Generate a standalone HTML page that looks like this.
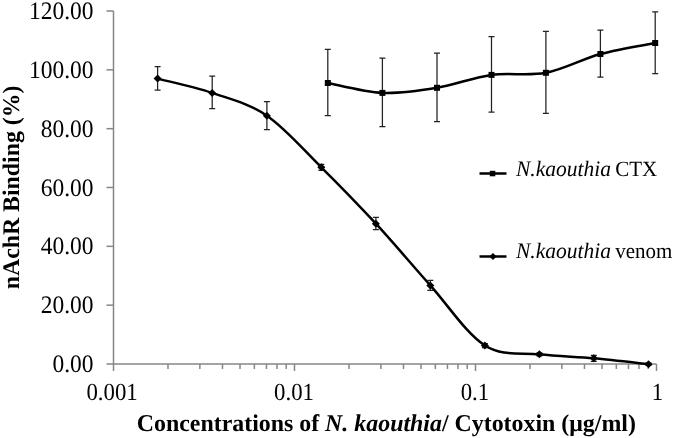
<!DOCTYPE html>
<html><head><meta charset="utf-8"><style>
html,body{margin:0;padding:0;background:#fff;}
body{width:675px;height:438px;overflow:hidden;font-family:"Liberation Serif",serif;}
svg{display:block;filter:grayscale(1);}
text{text-rendering:geometricPrecision;}
</style></head><body>
<svg width="675" height="438" viewBox="0 0 675 438">
<rect width="675" height="438" fill="#fff"/>
<path d="M113.5,11.0 V364.0 H656.5" fill="none" stroke="#868686" stroke-width="1.5"/>
<line x1="106.5" y1="364.00" x2="113.5" y2="364.00" stroke="#868686" stroke-width="1.5"/>
<line x1="106.5" y1="305.17" x2="113.5" y2="305.17" stroke="#868686" stroke-width="1.5"/>
<line x1="106.5" y1="246.33" x2="113.5" y2="246.33" stroke="#868686" stroke-width="1.5"/>
<line x1="106.5" y1="187.50" x2="113.5" y2="187.50" stroke="#868686" stroke-width="1.5"/>
<line x1="106.5" y1="128.67" x2="113.5" y2="128.67" stroke="#868686" stroke-width="1.5"/>
<line x1="106.5" y1="69.83" x2="113.5" y2="69.83" stroke="#868686" stroke-width="1.5"/>
<line x1="106.5" y1="11.00" x2="113.5" y2="11.00" stroke="#868686" stroke-width="1.5"/>
<line x1="113.50" y1="364.0" x2="113.50" y2="371.0" stroke="#868686" stroke-width="1.5"/>
<line x1="167.99" y1="364.0" x2="167.99" y2="369.0" stroke="#868686" stroke-width="1.5"/>
<line x1="199.86" y1="364.0" x2="199.86" y2="369.0" stroke="#868686" stroke-width="1.5"/>
<line x1="222.47" y1="364.0" x2="222.47" y2="369.0" stroke="#868686" stroke-width="1.5"/>
<line x1="240.01" y1="364.0" x2="240.01" y2="369.0" stroke="#868686" stroke-width="1.5"/>
<line x1="254.35" y1="364.0" x2="254.35" y2="369.0" stroke="#868686" stroke-width="1.5"/>
<line x1="266.46" y1="364.0" x2="266.46" y2="369.0" stroke="#868686" stroke-width="1.5"/>
<line x1="276.96" y1="364.0" x2="276.96" y2="369.0" stroke="#868686" stroke-width="1.5"/>
<line x1="286.22" y1="364.0" x2="286.22" y2="369.0" stroke="#868686" stroke-width="1.5"/>
<line x1="294.50" y1="364.0" x2="294.50" y2="371.0" stroke="#868686" stroke-width="1.5"/>
<line x1="348.99" y1="364.0" x2="348.99" y2="369.0" stroke="#868686" stroke-width="1.5"/>
<line x1="380.86" y1="364.0" x2="380.86" y2="369.0" stroke="#868686" stroke-width="1.5"/>
<line x1="403.47" y1="364.0" x2="403.47" y2="369.0" stroke="#868686" stroke-width="1.5"/>
<line x1="421.01" y1="364.0" x2="421.01" y2="369.0" stroke="#868686" stroke-width="1.5"/>
<line x1="435.35" y1="364.0" x2="435.35" y2="369.0" stroke="#868686" stroke-width="1.5"/>
<line x1="447.46" y1="364.0" x2="447.46" y2="369.0" stroke="#868686" stroke-width="1.5"/>
<line x1="457.96" y1="364.0" x2="457.96" y2="369.0" stroke="#868686" stroke-width="1.5"/>
<line x1="467.22" y1="364.0" x2="467.22" y2="369.0" stroke="#868686" stroke-width="1.5"/>
<line x1="475.50" y1="364.0" x2="475.50" y2="371.0" stroke="#868686" stroke-width="1.5"/>
<line x1="529.99" y1="364.0" x2="529.99" y2="369.0" stroke="#868686" stroke-width="1.5"/>
<line x1="561.86" y1="364.0" x2="561.86" y2="369.0" stroke="#868686" stroke-width="1.5"/>
<line x1="584.47" y1="364.0" x2="584.47" y2="369.0" stroke="#868686" stroke-width="1.5"/>
<line x1="602.01" y1="364.0" x2="602.01" y2="369.0" stroke="#868686" stroke-width="1.5"/>
<line x1="616.35" y1="364.0" x2="616.35" y2="369.0" stroke="#868686" stroke-width="1.5"/>
<line x1="628.46" y1="364.0" x2="628.46" y2="369.0" stroke="#868686" stroke-width="1.5"/>
<line x1="638.96" y1="364.0" x2="638.96" y2="369.0" stroke="#868686" stroke-width="1.5"/>
<line x1="648.22" y1="364.0" x2="648.22" y2="369.0" stroke="#868686" stroke-width="1.5"/>
<line x1="656.5" y1="364.0" x2="656.5" y2="371.0" stroke="#868686" stroke-width="1.5"/>
<path d="M327.8,49.3 V115.5 M324.80,49.3 H330.80 M324.80,115.5 H330.80" fill="none" stroke="#222" stroke-width="1.25"/>
<path d="M382.4,58.2 V126.7 M379.40,58.2 H385.40 M379.40,126.7 H385.40" fill="none" stroke="#222" stroke-width="1.25"/>
<path d="M437.0,53.0 V121.7 M434.00,53.0 H440.00 M434.00,121.7 H440.00" fill="none" stroke="#222" stroke-width="1.25"/>
<path d="M491.5,36.7 V112.0 M488.50,36.7 H494.50 M488.50,112.0 H494.50" fill="none" stroke="#222" stroke-width="1.25"/>
<path d="M545.9,31.4 V113.3 M542.90,31.4 H548.90 M542.90,113.3 H548.90" fill="none" stroke="#222" stroke-width="1.25"/>
<path d="M600.4,30.2 V77.0 M597.40,30.2 H603.40 M597.40,77.0 H603.40" fill="none" stroke="#222" stroke-width="1.25"/>
<path d="M655.2,11.9 V73.6 M652.20,11.9 H658.20 M652.20,73.6 H658.20" fill="none" stroke="#222" stroke-width="1.25"/>
<path d="M157.6,66.5 V90.1 M154.60,66.5 H160.60 M154.60,90.1 H160.60" fill="none" stroke="#222" stroke-width="1.25"/>
<path d="M212.2,76.1 V108.7 M209.20,76.1 H215.20 M209.20,108.7 H215.20" fill="none" stroke="#222" stroke-width="1.25"/>
<path d="M266.9,101.7 V129.7 M263.90,101.7 H269.90 M263.90,129.7 H269.90" fill="none" stroke="#222" stroke-width="1.25"/>
<path d="M321.3,164.3 V170.4 M318.30,164.3 H324.30 M318.30,170.4 H324.30" fill="none" stroke="#222" stroke-width="1.25"/>
<path d="M375.9,217.4 V229.7 M372.90,217.4 H378.90 M372.90,229.7 H378.90" fill="none" stroke="#222" stroke-width="1.25"/>
<path d="M430.3,280.4 V290.3 M427.30,280.4 H433.30 M427.30,290.3 H433.30" fill="none" stroke="#222" stroke-width="1.25"/>
<path d="M484.9,343.5 V347.5 M481.90,343.5 H487.90 M481.90,347.5 H487.90" fill="none" stroke="#222" stroke-width="1.25"/>
<path d="M539.4,352.8 V355.8 M536.40,352.8 H542.40 M536.40,355.8 H542.40" fill="none" stroke="#222" stroke-width="1.25"/>
<path d="M593.8,355.3 V361.4 M590.80,355.3 H596.80 M590.80,361.4 H596.80" fill="none" stroke="#222" stroke-width="1.25"/>
<path d="M648.5,363.0 V365.4 M645.50,363.0 H651.50 M645.50,365.4 H651.50" fill="none" stroke="#222" stroke-width="1.25"/>
<path d="M327.80,83.00 C336.90,84.65 364.20,92.10 382.40,92.90 C400.60,93.70 418.82,90.80 437.00,87.80 C455.18,84.80 473.35,77.40 491.50,74.90 C509.65,72.40 527.75,76.28 545.90,72.80 C564.05,69.32 582.18,58.97 600.40,54.00 C618.62,49.03 646.07,44.83 655.20,43.00" fill="none" stroke="#000" stroke-width="2.5" stroke-linejoin="round"/>
<path d="M157.60,78.60 C166.70,80.98 193.98,86.72 212.20,92.90 C230.42,99.08 248.72,103.30 266.90,115.70 C285.08,128.10 303.13,149.30 321.30,167.30 C339.47,185.30 357.73,204.02 375.90,223.70 C394.07,243.38 412.13,265.10 430.30,285.40 C448.47,305.70 466.72,334.02 484.90,345.50 C503.08,356.98 521.25,352.17 539.40,354.30 C557.55,356.43 575.62,356.65 593.80,358.30 C611.98,359.95 639.38,363.22 648.50,364.20" fill="none" stroke="#000" stroke-width="2.5" stroke-linejoin="round"/>
<rect x="324.80" y="80.00" width="6" height="6" fill="#000"/>
<rect x="379.40" y="89.90" width="6" height="6" fill="#000"/>
<rect x="434.00" y="84.80" width="6" height="6" fill="#000"/>
<rect x="488.50" y="71.90" width="6" height="6" fill="#000"/>
<rect x="542.90" y="69.80" width="6" height="6" fill="#000"/>
<rect x="597.40" y="51.00" width="6" height="6" fill="#000"/>
<rect x="652.20" y="40.00" width="6" height="6" fill="#000"/>
<path d="M157.6,74.60 L161.60,78.6 L157.6,82.60 L153.60,78.6 Z" fill="#000"/>
<path d="M212.2,88.90 L216.20,92.9 L212.2,96.90 L208.20,92.9 Z" fill="#000"/>
<path d="M266.9,111.70 L270.90,115.7 L266.9,119.70 L262.90,115.7 Z" fill="#000"/>
<path d="M321.3,163.30 L325.30,167.3 L321.3,171.30 L317.30,167.3 Z" fill="#000"/>
<path d="M375.9,219.70 L379.90,223.7 L375.9,227.70 L371.90,223.7 Z" fill="#000"/>
<path d="M430.3,281.40 L434.30,285.4 L430.3,289.40 L426.30,285.4 Z" fill="#000"/>
<path d="M484.9,341.50 L488.90,345.5 L484.9,349.50 L480.90,345.5 Z" fill="#000"/>
<path d="M539.4,350.30 L543.40,354.3 L539.4,358.30 L535.40,354.3 Z" fill="#000"/>
<path d="M593.8,354.30 L597.80,358.3 L593.8,362.30 L589.80,358.3 Z" fill="#000"/>
<path d="M648.5,360.20 L652.50,364.2 L648.5,368.20 L644.50,364.2 Z" fill="#000"/>
<line x1="479.5" y1="173.5" x2="506.5" y2="173.5" stroke="#000" stroke-width="2.5"/>
<rect x="489.8" y="170.8" width="5.5" height="5.5" fill="#000"/>
<line x1="479.5" y1="256.5" x2="506.5" y2="256.5" stroke="#000" stroke-width="2.5"/>
<path d="M493,252.9 L496.6,256.5 L493,260.1 L489.4,256.5 Z" fill="#000"/>
<text transform="translate(516.00,175.50) scale(1.0,1.03)" font-size="21" text-anchor="start" font-family="'Liberation Serif', serif" ><tspan font-style="italic" font-size="21.5">N.kaouthia</tspan><tspan dx="-1"> CTX</tspan></text>
<text transform="translate(516.00,257.90) scale(1.0,1.03)" font-size="21" text-anchor="start" font-family="'Liberation Serif', serif" ><tspan font-style="italic" font-size="21.5">N.kaouthia</tspan><tspan dx="-1"> venom</tspan></text>
<text transform="translate(93.50,372.00) scale(1.0,1.07)" font-size="23.5" text-anchor="end" font-family="'Liberation Serif', serif" >0.00</text>
<text transform="translate(93.50,313.17) scale(1.0,1.07)" font-size="23.5" text-anchor="end" font-family="'Liberation Serif', serif" >20.00</text>
<text transform="translate(93.50,254.33) scale(1.0,1.07)" font-size="23.5" text-anchor="end" font-family="'Liberation Serif', serif" >40.00</text>
<text transform="translate(93.50,195.50) scale(1.0,1.07)" font-size="23.5" text-anchor="end" font-family="'Liberation Serif', serif" >60.00</text>
<text transform="translate(93.50,136.67) scale(1.0,1.07)" font-size="23.5" text-anchor="end" font-family="'Liberation Serif', serif" >80.00</text>
<text transform="translate(93.50,77.83) scale(1.0,1.07)" font-size="23.5" text-anchor="end" font-family="'Liberation Serif', serif" >100.00</text>
<text transform="translate(93.50,19.00) scale(1.0,1.07)" font-size="23.5" text-anchor="end" font-family="'Liberation Serif', serif" >120.00</text>
<text transform="translate(112.10,399.70) scale(1.0,1.08)" font-size="22.8" text-anchor="middle" font-family="'Liberation Serif', serif" >0.001</text>
<text transform="translate(294.00,399.70) scale(1.0,1.08)" font-size="22.8" text-anchor="middle" font-family="'Liberation Serif', serif" >0.01</text>
<text transform="translate(474.90,399.70) scale(1.0,1.08)" font-size="22.8" text-anchor="middle" font-family="'Liberation Serif', serif" >0.1</text>
<text transform="translate(657.40,399.70) scale(1.0,1.08)" font-size="22.8" text-anchor="middle" font-family="'Liberation Serif', serif" >1</text>
<text transform="translate(386.30,430.90) scale(0.995,1.0)" font-size="24" text-anchor="middle" font-family="'Liberation Serif', serif" font-weight="bold">Concentrations of <tspan font-style="italic">N. kaouthia</tspan>/ Cytotoxin (μg/ml)</text>
<text transform="translate(18.5,187.4) rotate(-90) scale(1.0,1.0)" font-size="23.8" font-weight="bold" text-anchor="middle" font-family="'Liberation Serif', serif">nAchR Binding (%)</text>
</svg>
</body></html>
